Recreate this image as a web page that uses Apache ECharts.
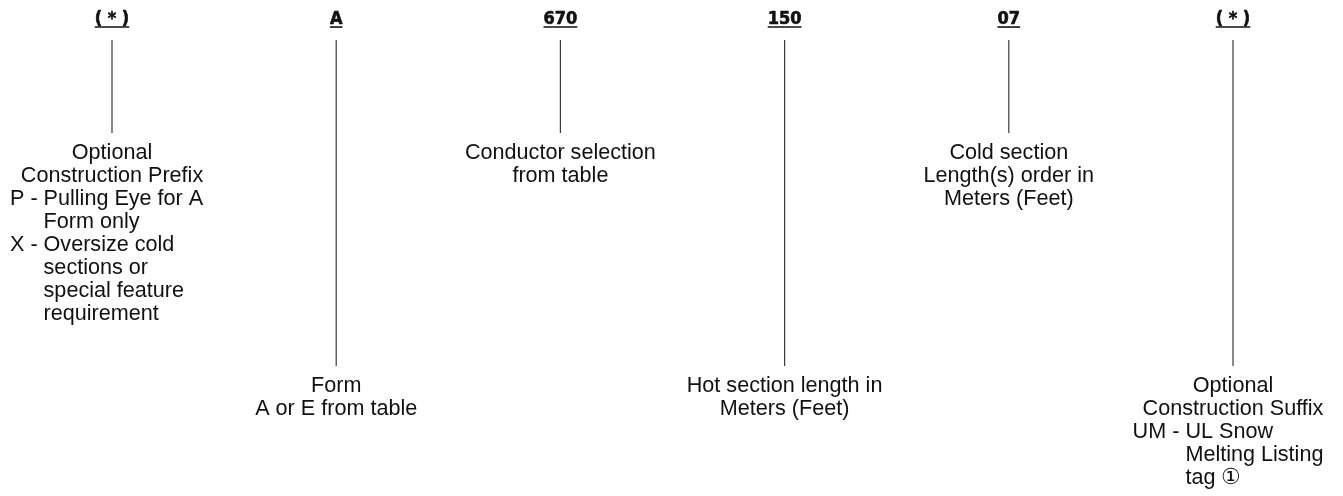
<!DOCTYPE html>
<html>
<head>
<meta charset="utf-8">
<script src="https://cdn.jsdelivr.net/npm/echarts@6/dist/echarts.min.js"></script>
<style>
html,body{margin:0;padding:0;background:#fff;}
#chart{width:1343px;height:496px;}
</style>
</head>
<body>
<div id="chart"></div>
<script>
// ---- data ----
const codes = ['( * )', 'A', '670', '150', '07', '( * )'];
const leaderTop = [40, 40, 40, 40, 40, 40];
const leaderBottom = [133, 366, 133, 366, 133, 366];
const headLines = [
  ['Optional', 'Construction Prefix'],
  ['Form', 'A or E from table'],
  ['Conductor selection', 'from table'],
  ['Hot section length in', 'Meters (Feet)'],
  ['Cold section', 'Length(s) order in', 'Meters (Feet)'],
  ['Optional', 'Construction Suffix']
];
const listMarkers = [['P', 'X'], [], [], [], [], ['UM']];
const listTexts = [
  [['Pulling Eye for A', 'Form only'], ['Oversize cold', 'sections or', 'special feature', 'requirement']],
  [], [], [], [],
  [['UL Snow', 'Melting Listing', 'tag \u2460']]
];

// ---- styles ----
const BODY_FAMILY = '"Liberation Sans", Arial, Helvetica, sans-serif';
const BODY_SIZE = 21.6;
const CODE_FAMILY = '"DejaVu Sans Condensed", "Liberation Sans Narrow", "Roboto Condensed", sans-serif';
const CODE_SIZE = 18;
const LINE_H = 23;
const TEXT_GAP = 20;
const CODE_Y = 19;
const UNDERLINE_Y = 27;

const mctx = document.createElement('canvas').getContext('2d');
function measure(text, font) { mctx.font = font; return mctx.measureText(text).width; }
const bodyFont = 'normal normal ' + BODY_SIZE + 'px ' + BODY_FAMILY;
const codeFont = 'normal bold ' + CODE_SIZE + 'px ' + CODE_FAMILY;

const seriesData = codes.map((c, i) => [i, leaderTop[i], leaderBottom[i]]);

function textEl(text, x, y, align, font, fill, strokeW) {
  const style = { text: text, x: x, y: y, font: font, fill: fill || '#111',
    align: align, textAlign: align, verticalAlign: 'middle', textVerticalAlign: 'middle' };
  if (strokeW) { style.stroke = fill || '#111'; style.lineWidth = strokeW; }
  return { type: 'text', silent: true, style: style };
}

function renderItem(params, api) {
  const i = api.value(0);
  const top = api.value(1), bot = api.value(2);
  const p1 = api.coord([i, top]);
  const p2 = api.coord([i, bot]);
  const x = p1[0];
  const children = [];
  children.push({ type: 'line', silent: true,
    shape: { x1: x, y1: p1[1], x2: x, y2: p2[1] },
    style: { stroke: '#3a3a3a', lineWidth: 1.2 } });
  const cy = api.coord([i, CODE_Y])[1];
  children.push(textEl(codes[i], x, cy, 'center', codeFont, '#111', 0.6));
  const cw = measure(codes[i], codeFont);
  const uy = api.coord([i, UNDERLINE_Y])[1];
  children.push({ type: 'rect', silent: true,
    shape: { x: x - cw / 2, y: uy - 0.75, width: cw, height: 1.6 },
    style: { fill: '#111' } });
  let k = 0;
  const base = bot + TEXT_GAP;
  let headMax = 0;
  headLines[i].forEach(t => { headMax = Math.max(headMax, measure(t, bodyFont)); });
  headLines[i].forEach(t => {
    const y = api.coord([i, base + k * LINE_H])[1];
    children.push(textEl(t, x, y, 'center', bodyFont));
    k++;
  });
  const markers = listMarkers[i];
  if (markers.length) {
    let listMax = 0;
    markers.forEach((m, j) => {
      const ind = measure(m + ' - ', bodyFont);
      listTexts[i][j].forEach((t, r) => {
        const w = r === 0 ? measure(m + ' - ' + t, bodyFont) : ind + measure(t, bodyFont);
        listMax = Math.max(listMax, w);
      });
    });
    const left = x + headMax / 2 - listMax;
    markers.forEach((m, j) => {
      const ind = measure(m + ' - ', bodyFont);
      listTexts[i][j].forEach((t, r) => {
        const y = api.coord([i, base + k * LINE_H])[1];
        if (r === 0) children.push(textEl(m + ' - ' + t, left, y, 'left', bodyFont));
        else children.push(textEl(t, left + ind, y, 'left', bodyFont));
        k++;
      });
    });
  }
  return { type: 'group', children: children };
}

const chart = echarts.init(document.getElementById('chart'));
chart.setOption({
  animation: false,
  grid: { left: 112, right: 110, top: 0, bottom: 0 },
  xAxis: { type: 'category', data: codes, boundaryGap: false, show: false },
  yAxis: { type: 'value', min: 0, max: 496, inverse: true, show: false },
  series: [{ type: 'custom', renderItem: renderItem, data: seriesData, clip: false,
    encode: { x: 0, y: [1, 2] } }]
});
</script>
</body>
</html>
